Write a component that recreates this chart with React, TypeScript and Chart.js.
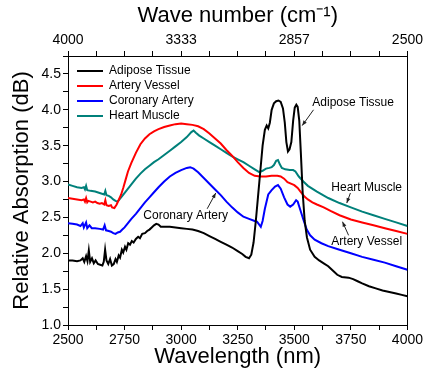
import React, { useEffect, useRef } from 'react';
import { Chart, registerables } from 'chart.js';

Chart.register(...registerables);

const FONT = "'Liberation Sans', Arial, sans-serif";

// Adipose Tissue
const adiposeWavelength = [2500, 2520, 2540, 2555, 2565, 2572, 2580, 2586, 2592, 2598, 2606, 2614, 2622, 2632, 2642, 2652, 2658, 2664, 2670, 2678, 2686, 2694, 2702, 2710, 2716, 2724, 2730, 2738, 2744, 2752, 2758, 2766, 2774, 2782, 2790, 2800, 2810, 2818, 2828, 2840, 2850, 2860, 2870, 2880, 2890, 2900, 2910, 2925, 2950, 2975, 3000, 3025, 3050, 3075, 3100, 3125, 3150, 3175, 3200, 3225, 3250, 3270, 3285, 3300, 3310, 3320, 3330, 3340, 3350, 3360, 3370, 3378, 3385, 3392, 3400, 3410, 3420, 3430, 3440, 3450, 3458, 3465, 3472, 3479, 3487, 3495, 3502, 3509, 3515, 3522, 3529, 3537, 3546, 3556, 3570, 3590, 3610, 3630, 3650, 3670, 3690, 3710, 3740, 3760, 3780, 3800, 3830, 3860, 3890, 3920, 3950, 3975, 4000];
const adiposeValues = [1.90, 1.90, 1.89, 1.90, 1.93, 1.88, 1.96, 1.89, 2.04, 1.88, 1.93, 1.86, 1.90, 1.85, 1.84, 1.83, 1.88, 2.05, 1.90, 1.85, 1.92, 1.83, 1.85, 1.92, 1.88, 1.97, 1.94, 2.05, 2.01, 2.09, 2.05, 2.14, 2.12, 2.17, 2.15, 2.20, 2.23, 2.21, 2.27, 2.28, 2.31, 2.33, 2.36, 2.39, 2.41, 2.40, 2.37, 2.37, 2.37, 2.36, 2.35, 2.34, 2.33, 2.31, 2.28, 2.24, 2.20, 2.16, 2.12, 2.08, 2.03, 1.99, 1.95, 1.93, 1.98, 2.15, 2.45, 2.80, 3.15, 3.50, 3.72, 3.78, 3.74, 3.82, 4.00, 4.09, 4.12, 4.13, 4.11, 4.02, 3.82, 3.55, 3.42, 3.45, 3.55, 3.85, 4.03, 4.07, 4.04, 3.85, 3.40, 2.85, 2.45, 2.22, 2.05, 1.95, 1.90, 1.86, 1.82, 1.76, 1.70, 1.67, 1.66, 1.64, 1.61, 1.58, 1.54, 1.51, 1.48, 1.46, 1.44, 1.42, 1.40];

// Artery Vessel
const arteryWavelength = [2500, 2520, 2540, 2560, 2570, 2575, 2580, 2585, 2590, 2600, 2610, 2620, 2630, 2640, 2650, 2660, 2665, 2670, 2680, 2690, 2695, 2705, 2715, 2725, 2735, 2745, 2755, 2765, 2780, 2800, 2820, 2840, 2860, 2880, 2900, 2925, 2950, 2975, 3000, 3025, 3050, 3075, 3100, 3125, 3150, 3175, 3200, 3225, 3250, 3275, 3300, 3325, 3350, 3375, 3400, 3425, 3440, 3455, 3470, 3485, 3500, 3515, 3530, 3545, 3560, 3580, 3600, 3630, 3660, 3700, 3750, 3800, 3850, 3900, 3950, 4000];
const arteryValues = [2.77, 2.76, 2.75, 2.74, 2.75, 2.72, 2.77, 2.71, 2.73, 2.72, 2.71, 2.72, 2.70, 2.69, 2.70, 2.68, 2.74, 2.67, 2.66, 2.67, 2.64, 2.63, 2.68, 2.75, 2.82, 2.92, 3.03, 3.14, 3.26, 3.40, 3.52, 3.60, 3.66, 3.70, 3.73, 3.76, 3.78, 3.80, 3.81, 3.80, 3.79, 3.77, 3.73, 3.67, 3.60, 3.53, 3.44, 3.36, 3.27, 3.19, 3.12, 3.08, 3.07, 3.07, 3.08, 3.08, 3.07, 3.04, 2.99, 2.97, 2.95, 2.91, 2.85, 2.79, 2.75, 2.71, 2.68, 2.64, 2.59, 2.53, 2.47, 2.43, 2.39, 2.35, 2.31, 2.27];

// Coronary Artery
const coronaryWavelength = [2500, 2520, 2540, 2555, 2565, 2570, 2580, 2585, 2595, 2605, 2620, 2640, 2655, 2662, 2668, 2680, 2690, 2700, 2710, 2720, 2730, 2740, 2750, 2765, 2780, 2800, 2820, 2840, 2860, 2880, 2900, 2925, 2950, 2975, 3000, 3025, 3040, 3055, 3075, 3100, 3125, 3150, 3175, 3200, 3225, 3250, 3275, 3300, 3325, 3335, 3345, 3352, 3360, 3370, 3385, 3400, 3415, 3428, 3440, 3455, 3470, 3482, 3495, 3508, 3515, 3525, 3540, 3555, 3570, 3590, 3620, 3650, 3700, 3750, 3800, 3850, 3900, 3950, 4000];
const coronaryValues = [2.42, 2.41, 2.40, 2.38, 2.42, 2.36, 2.43, 2.35, 2.39, 2.35, 2.35, 2.34, 2.33, 2.39, 2.32, 2.31, 2.30, 2.28, 2.27, 2.29, 2.30, 2.33, 2.36, 2.42, 2.48, 2.55, 2.63, 2.71, 2.78, 2.85, 2.92, 3.00, 3.07, 3.12, 3.16, 3.19, 3.20, 3.18, 3.13, 3.05, 2.97, 2.89, 2.81, 2.72, 2.64, 2.57, 2.51, 2.48, 2.45, 2.44, 2.40, 2.37, 2.45, 2.62, 2.82, 2.88, 2.93, 2.95, 2.90, 2.78, 2.68, 2.65, 2.68, 2.74, 2.72, 2.62, 2.47, 2.33, 2.25, 2.19, 2.14, 2.10, 2.05, 2.00, 1.95, 1.91, 1.87, 1.82, 1.77];

// Heart Muscle
const heartWavelength = [2500, 2520, 2540, 2560, 2570, 2575, 2580, 2585, 2600, 2620, 2640, 2660, 2665, 2670, 2680, 2690, 2700, 2710, 2718, 2725, 2740, 2760, 2780, 2800, 2820, 2840, 2860, 2880, 2900, 2925, 2950, 2975, 3000, 3025, 3045, 3055, 3065, 3080, 3100, 3125, 3150, 3175, 3200, 3225, 3250, 3275, 3300, 3325, 3345, 3360, 3375, 3390, 3400, 3410, 3420, 3428, 3436, 3445, 3460, 3480, 3495, 3505, 3520, 3540, 3560, 3600, 3650, 3700, 3750, 3800, 3850, 3900, 3950, 4000];
const heartValues = [2.96, 2.94, 2.92, 2.91, 2.92, 2.89, 2.94, 2.88, 2.87, 2.86, 2.84, 2.82, 2.87, 2.81, 2.80, 2.78, 2.75, 2.73, 2.72, 2.74, 2.80, 2.88, 2.96, 3.04, 3.11, 3.17, 3.22, 3.27, 3.31, 3.37, 3.43, 3.49, 3.55, 3.62, 3.69, 3.71, 3.68, 3.64, 3.60, 3.55, 3.50, 3.45, 3.40, 3.35, 3.31, 3.27, 3.22, 3.17, 3.13, 3.15, 3.18, 3.19, 3.20, 3.23, 3.29, 3.30, 3.24, 3.19, 3.17, 3.16, 3.16, 3.14, 3.07, 3.00, 2.94, 2.86, 2.77, 2.70, 2.64, 2.58, 2.53, 2.48, 2.43, 2.38];

const seriesNames = ['Adipose Tissue', 'Artery Vessel', 'Coronary Artery', 'Heart Muscle'];
const seriesColors = ['#000000', '#ff0000', '#0000ff', '#00807a'];

// Arrow annotations (data units)
const annotationTexts = ['Adipose Tissue', 'Heart Muscle', 'Artery Vessel', 'Coronary Artery'];
const annotationLabelX = [3760, 3820, 3820, 3020];
const annotationLabelY = [4.10, 2.91, 2.16, 2.52];
const annotationFromX = [3585, 3748, 3740, 3115];
const annotationFromY = [4.00, 2.84, 2.25, 2.62];
const annotationToX = [3535, 3732, 3713, 3153];
const annotationToY = [3.78, 2.70, 2.44, 2.84];

const arrowPlugin = {
  id: 'arrowLabels',
  afterDatasetsDraw(chart: any) {
    const { ctx } = chart;
    const xs = chart.scales.x;
    const ys = chart.scales.y;
    ctx.save();
    ctx.font = `12px ${FONT}`;
    ctx.strokeStyle = '#222';
    ctx.lineWidth = 1;
    ctx.textAlign = 'center';
    ctx.textBaseline = 'middle';
    annotationTexts.forEach((t, i) => {
      ctx.fillStyle = '#000';
      ctx.fillText(t, xs.getPixelForValue(annotationLabelX[i]), ys.getPixelForValue(annotationLabelY[i]));
      const x1 = xs.getPixelForValue(annotationFromX[i]);
      const y1 = ys.getPixelForValue(annotationFromY[i]);
      const x2 = xs.getPixelForValue(annotationToX[i]);
      const y2 = ys.getPixelForValue(annotationToY[i]);
      ctx.beginPath();
      ctx.moveTo(x1, y1);
      ctx.lineTo(x2, y2);
      ctx.stroke();
      const ang = Math.atan2(y2 - y1, x2 - x1);
      const len = 5, wid = 2;
      ctx.beginPath();
      ctx.moveTo(x2, y2);
      ctx.lineTo(x2 - len * Math.cos(ang) + wid * Math.sin(ang), y2 - len * Math.sin(ang) - wid * Math.cos(ang));
      ctx.lineTo(x2 - len * Math.cos(ang) - wid * Math.sin(ang), y2 - len * Math.sin(ang) + wid * Math.cos(ang));
      ctx.closePath();
      ctx.fillStyle = '#222';
      ctx.fill();
    });
    ctx.restore();
  },
};

const legendShift = {
  id: 'legendShift',
  afterLayout(chart: any) {
    if (chart.legend) {
      chart.legend.left = chart.chartArea.left + 6;
      chart.legend.top = chart.chartArea.top + 6;
    }
  },
};

export default function App() {
  const ref = useRef<HTMLCanvasElement | null>(null);
  useEffect(() => {
    if (!ref.current) return;
    const xsets = [adiposeWavelength, arteryWavelength, coronaryWavelength, heartWavelength];
    const ysets = [adiposeValues, arteryValues, coronaryValues, heartValues];
    const datasets = seriesNames.map((name, i) => ({
      label: name,
      data: xsets[i].map((x, j) => ({ x, y: ysets[i][j] })),
      borderColor: seriesColors[i],
      backgroundColor: seriesColors[i],
      borderWidth: 2,
      pointRadius: 0,
      tension: 0,
      fill: false,
    }));
    const gridCommon = {
      drawOnChartArea: false,
      drawTicks: true,
      tickLength: 5,
      color: '#000',
      lineWidth: 1,
    };
    const tickFont = { family: FONT, size: 14 };
    const titleFont = { family: FONT, size: 22 };
    const chart = new Chart(ref.current, {
      type: 'line',
      data: { datasets },
      plugins: [arrowPlugin, legendShift],
      options: {
        animation: false,
        responsive: false,
        layout: { padding: 0 },
        plugins: {
          legend: {
            position: 'chartArea' as any,
            align: 'start',
            labels: {
              usePointStyle: true,
              pointStyle: 'line',
              pointStyleWidth: 26,
              font: { family: FONT, size: 12 },
              color: '#000',
              padding: 3,
            },
          },
          tooltip: { enabled: false },
        },
        scales: {
          x: {
            type: 'linear',
            position: 'bottom',
            min: 2500,
            max: 4000,
            ticks: {
              stepSize: 125,
              autoSkip: false,
              maxRotation: 0,
              color: '#000',
              font: tickFont,
              padding: 2,
              callback: (v: any) => (Number(v) % 250 === 0 ? String(v) : ''),
            },
            grid: gridCommon,
            border: { color: '#000', width: 1 },
            title: {
              display: true,
              text: 'Wavelength (nm)',
              color: '#000',
              font: titleFont,
              padding: { top: 0, bottom: 3 },
            },
            afterFit: (s: any) => { s.height = 48; },
          },
          x2: {
            type: 'linear',
            position: 'top',
            min: 2500,
            max: 4000,
            ticks: {
              stepSize: 125,
              autoSkip: false,
              maxRotation: 0,
              color: '#000',
              font: tickFont,
              padding: 2,
              callback: (v: any) => (Number(v) % 500 === 0 ? String(Math.round(1e7 / Number(v))) : ''),
            },
            grid: gridCommon,
            border: { color: '#000', width: 1 },
            title: {
              display: true,
              text: 'Wave number (cm\u207B\u00B9)',
              color: '#000',
              font: titleFont,
              padding: { top: 3, bottom: 0 },
            },
            afterFit: (s: any) => { s.height = 56; },
          },
          y: {
            type: 'linear',
            position: 'left',
            min: 1,
            max: 4.75,
            ticks: {
              stepSize: 0.25,
              autoSkip: false,
              color: '#000',
              font: tickFont,
              padding: 2,
              callback: (v: any) => (Math.abs(Number(v) * 2 - Math.round(Number(v) * 2)) < 1e-6 ? Number(v).toFixed(1) : ''),
            },
            grid: gridCommon,
            border: { color: '#000', width: 1 },
            title: {
              display: true,
              text: 'Relative Absorption (dB)',
              color: '#000',
              font: titleFont,
              padding: { top: 9, bottom: 0 },
            },
            afterFit: (s: any) => { s.width = 68; },
          },
          y2: {
            type: 'linear',
            position: 'right',
            min: 1,
            max: 4.75,
            ticks: { display: false },
            grid: { drawOnChartArea: false, drawTicks: false },
            border: { color: '#000', width: 1 },
            afterFit: (s: any) => { s.width = 17; },
          },
        },
      } as any,
    });
    return () => chart.destroy();
  }, []);
  return (
    <div style={{ position: 'fixed', left: 0, top: 0, width: 425, height: 373, background: '#fff' }}>
      <canvas ref={ref} width={425} height={373} />
    </div>
  );
}
